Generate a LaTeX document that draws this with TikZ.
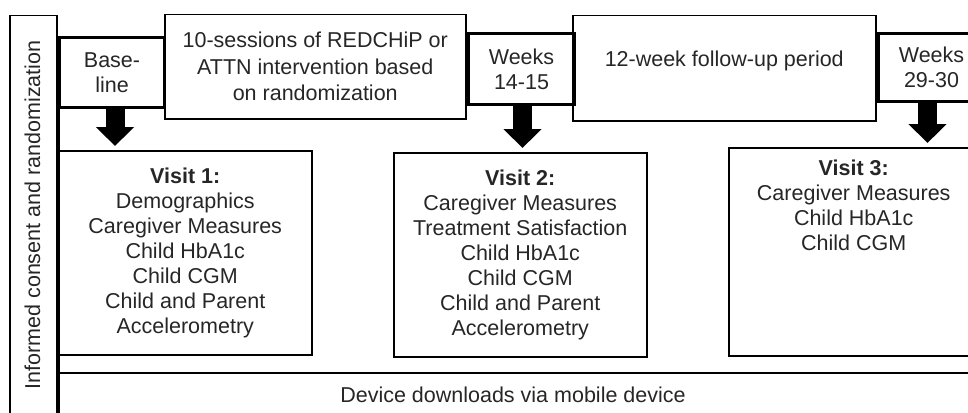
\documentclass[tikz,border=0pt]{standalone}
\usepackage{fontspec}
\setmainfont{Liberation Sans}
\usetikzlibrary{arrows.meta}

\tikzset{
	period/.style={draw, line width=1.5pt, inner sep=0pt, align=center, anchor=north west},
	milestone/.style={period, line width=3pt},
	blockarrow/.style={line width=19pt, -{Triangle[width=37pt,length=19pt]}, shorten >=4pt}
}

\begin{document}
\begin{tikzpicture}[x=1pt, y=-1pt, font=\fontsize{21.5}{25}\selectfont, text=black!85]
	\useasboundingbox (0,0) rectangle (968,412);
	\clip (0,0) rectangle (968,412);
	% consent column and bottom row
	\node[period, minimum width=47pt, minimum height=400pt] (consent) at (9,15) {};
	\node[rotate=90] (consenttext) at (32.5,215) {Informed consent and randomization};
	\node[period, minimum width=930pt, minimum height=60pt] (device) at (58,372) {};
	\node (devicetext) at (513,395) {Device downloads via mobile device};
	% time line
	\node[milestone, minimum width=105pt, minimum height=70pt] (base) at (58,36) {Base-\\line};
	\node[period, minimum width=301pt, minimum height=104pt, font=\fontsize{21.5}{26.5}\selectfont] (sessions) at (164,14)
		{10-sessions of REDCHiP or\\ATTN intervention based\\on randomization};
	\node[milestone, minimum width=106pt, minimum height=71pt] (weeksA) at (467,32) {Weeks\\14-15};
	\node[period, minimum width=303pt, minimum height=105pt, label={[yshift=7.5pt]center:12-week follow-up period}] (followup) at (572,15) {};
	\node[milestone, minimum width=106pt, minimum height=68pt] (weeksB) at (877,32) {Weeks\\29-30};
	\draw[line width=3pt] (base.south west) -- (device.south west);
	% visits
	\node[period, minimum width=253pt, minimum height=204pt] (visitA) at (58,150)
		{\textbf{Visit 1:}\\Demographics\\Caregiver Measures\\Child HbA1c\\Child CGM\\Child and Parent\\Accelerometry};
	\node[period, minimum width=253pt, minimum height=204pt] (visitB) at (393,152)
		{\textbf{Visit 2:}\\Caregiver Measures\\Treatment Satisfaction\\Child HbA1c\\Child CGM\\Child and Parent\\Accelerometry};
	\node[period, minimum width=250pt, minimum height=208pt] (visitC) at (728,147) {};
	\node[anchor=north, align=center, inner sep=0pt] (visitCtext) at ([yshift=-13pt]visitC.north)
		{\textbf{Visit 3:}\\Caregiver Measures\\Child HbA1c\\Child CGM};
	\foreach \from/\to/\dx in {base/visitA/3, weeksA/visitB/1, weeksB/visitC/-4}
		\draw[blockarrow] ([xshift=\dx pt]\from.south) -- ([xshift=\dx pt]\from.south |- \to.north);
\end{tikzpicture}
\end{document}
